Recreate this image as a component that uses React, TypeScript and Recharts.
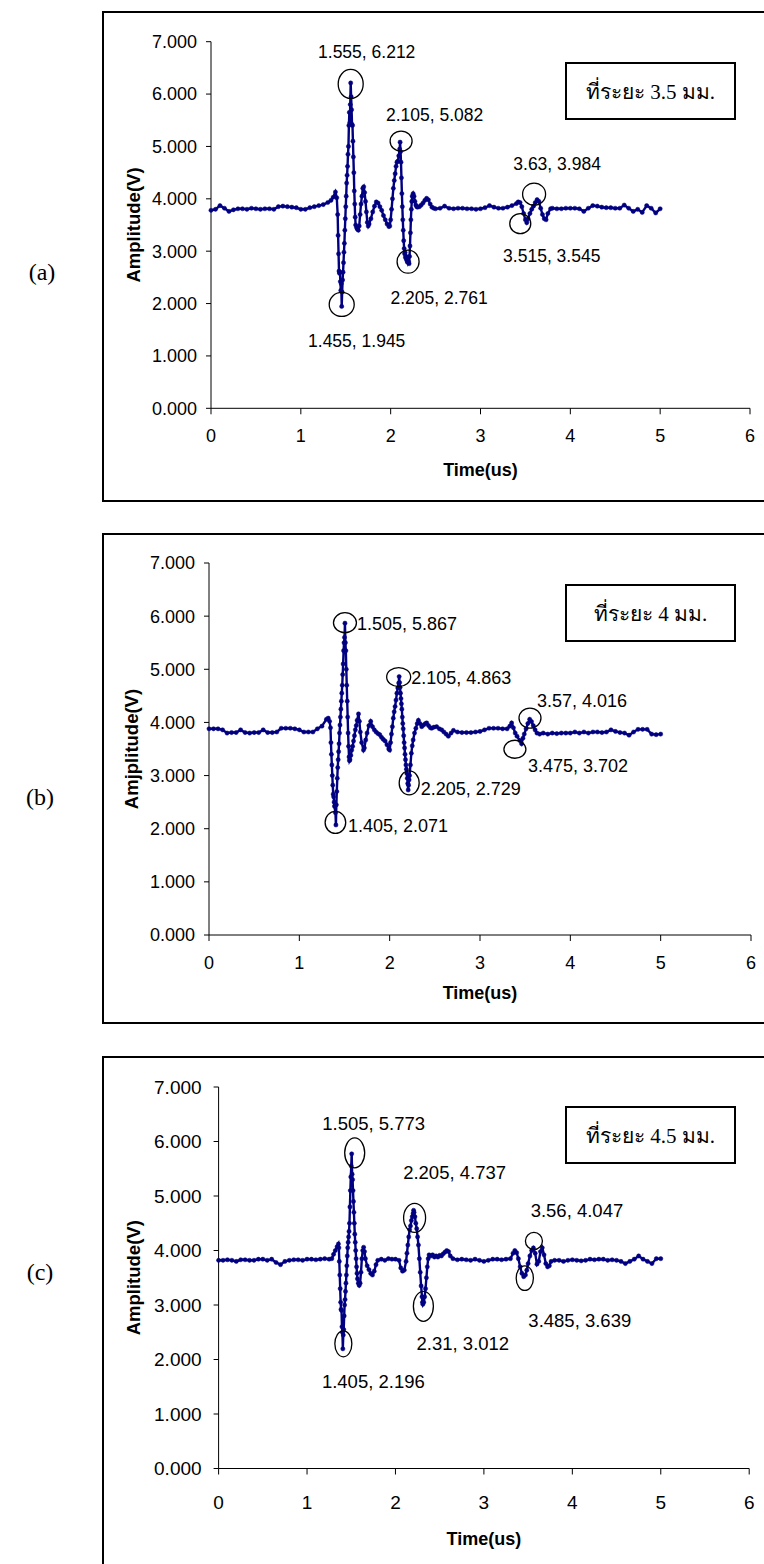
import React from 'react';
import { LineChart, Line, XAxis, YAxis, ReferenceDot, Label } from 'recharts';

type Pt = [number, number];

const timeTicks = [0, 1, 2, 3, 4, 5, 6];
const ampTicks = [0, 1, 2, 3, 4, 5, 6, 7];

// (a) 3.5 mm
const leadA: Pt[] = [[0,3.78],[0.05,3.80],[0.1,3.87],[0.15,3.82],[0.2,3.76],[0.25,3.79],[0.3,3.81],[0.35,3.81],[0.4,3.80],[0.45,3.82],[0.5,3.81],[0.55,3.80],[0.6,3.81],[0.65,3.81],[0.7,3.80],[0.75,3.85],[0.8,3.86],[0.85,3.85],[0.9,3.84],[0.95,3.83],[1.0,3.80],[1.05,3.80],[1.1,3.83],[1.15,3.85],[1.2,3.87],[1.25,3.89],[1.3,3.93]];
const burstA: Pt[] = [[1.335,3.97],[1.36,4.03],[1.385,4.13],[1.40,4.02],[1.41,3.70],[1.415,3.30],[1.42,2.95],[1.425,2.62],[1.43,2.58],[1.435,2.60],[1.44,2.42],[1.445,2.25],[1.45,2.38],[1.455,1.945],[1.46,2.22],[1.465,2.45],[1.47,2.60],[1.475,2.78],[1.48,2.98],[1.485,3.15],[1.49,3.40],[1.495,3.62],[1.50,3.85],[1.505,4.05],[1.51,4.30],[1.515,4.45],[1.52,4.62],[1.525,4.85],[1.53,5.00],[1.535,5.40],[1.54,5.65],[1.545,5.45],[1.55,5.80],[1.555,6.212],[1.56,5.95],[1.565,5.70],[1.57,5.42],[1.575,5.40],[1.58,5.10],[1.585,4.80],[1.59,4.50],[1.595,4.15],[1.60,3.90],[1.605,3.65],[1.61,3.50],[1.62,3.45],[1.63,3.42],[1.64,3.40],[1.65,3.48],[1.66,3.70],[1.67,3.90],[1.68,4.05],[1.69,4.20],[1.70,4.23],[1.71,4.12],[1.72,3.95],[1.73,3.75],[1.74,3.55],[1.75,3.48],[1.76,3.52],[1.78,3.62],[1.80,3.75],[1.82,3.86],[1.84,3.94],[1.86,3.92],[1.88,3.85],[1.90,3.78],[1.92,3.68],[1.94,3.60],[1.96,3.52],[1.98,3.47],[1.99,3.48],[2.00,3.60],[2.01,3.80],[2.02,4.00],[2.03,4.20],[2.04,4.35],[2.05,4.48],[2.06,4.62],[2.07,4.70],[2.08,4.72],[2.09,4.82],[2.10,4.95],[2.105,5.082],[2.11,4.90],[2.115,4.70],[2.12,4.40],[2.125,4.10],[2.13,3.85],[2.135,3.60],[2.14,3.40],[2.145,3.20],[2.15,3.05],[2.155,2.95],[2.16,2.98],[2.165,2.88],[2.17,2.90],[2.175,2.84],[2.18,2.86],[2.185,2.80],[2.19,2.84],[2.195,2.78],[2.20,2.80],[2.205,2.761],[2.21,2.90],[2.215,3.10],[2.22,3.35],[2.225,3.60],[2.23,3.80],[2.235,3.95],[2.24,4.05],[2.25,4.10],[2.26,4.05],[2.27,3.95],[2.28,3.88],[2.29,3.85],[2.30,3.84],[2.32,3.85],[2.34,3.88],[2.36,3.92],[2.38,3.97],[2.40,4.01],[2.42,3.98],[2.44,3.90],[2.46,3.84],[2.48,3.82],[2.50,3.81]];
const midA: Pt[] = [[2.55,3.82],[2.60,3.86],[2.65,3.82],[2.70,3.81],[2.75,3.82],[2.80,3.82],[2.85,3.81],[2.90,3.81],[2.95,3.80],[3.00,3.81],[3.05,3.83],[3.10,3.87],[3.15,3.84],[3.20,3.82],[3.25,3.82],[3.30,3.84]];
const echoA: Pt[] = [[3.35,3.87],[3.40,3.91],[3.42,3.94],[3.44,3.93],[3.46,3.85],[3.48,3.72],[3.50,3.60],[3.515,3.545],[3.53,3.62],[3.55,3.72],[3.57,3.80],[3.59,3.86],[3.61,3.93],[3.63,3.984],[3.65,3.95],[3.67,3.82],[3.69,3.70],[3.71,3.62],[3.73,3.60],[3.75,3.72],[3.78,3.81],[3.80,3.82]];
const tailA: Pt[] = [[3.85,3.81],[3.90,3.81],[3.95,3.82],[4.00,3.82],[4.05,3.82],[4.10,3.81],[4.15,3.76],[4.20,3.82],[4.25,3.87],[4.30,3.86],[4.35,3.84],[4.40,3.83],[4.45,3.83],[4.50,3.82],[4.55,3.82],[4.60,3.88],[4.65,3.82],[4.70,3.76],[4.75,3.80],[4.80,3.74],[4.85,3.87],[4.90,3.82],[4.95,3.73],[5.00,3.81]];
const peaksA: Pt[] = [[1.555,6.212],[2.105,5.082],[2.205,2.761],[1.455,1.945],[3.63,3.984],[3.515,3.545]];

// (b) 4 mm
const leadB: Pt[] = [[0,3.88],[0.05,3.88],[0.1,3.88],[0.15,3.86],[0.2,3.80],[0.25,3.81],[0.3,3.81],[0.35,3.86],[0.4,3.81],[0.45,3.80],[0.5,3.81],[0.55,3.81],[0.6,3.86],[0.65,3.81],[0.7,3.81],[0.75,3.82],[0.8,3.89],[0.85,3.89],[0.9,3.89],[0.95,3.88],[1.0,3.86],[1.05,3.82],[1.1,3.82],[1.15,3.82],[1.2,3.88],[1.25,3.93],[1.3,4.06]];
const burstB: Pt[] = [[1.32,4.08],[1.335,4.02],[1.345,3.90],[1.35,3.62],[1.355,3.40],[1.36,3.20],[1.365,3.00],[1.37,2.82],[1.375,2.65],[1.38,2.60],[1.385,2.50],[1.39,2.42],[1.395,2.44],[1.40,2.30],[1.405,2.071],[1.41,2.45],[1.415,2.70],[1.42,2.95],[1.425,3.15],[1.43,3.30],[1.435,3.45],[1.44,3.60],[1.445,3.80],[1.45,3.95],[1.455,4.10],[1.46,4.25],[1.465,4.40],[1.47,4.55],[1.475,4.70],[1.48,4.90],[1.485,5.10],[1.49,5.35],[1.495,5.50],[1.50,5.60],[1.505,5.867],[1.51,5.50],[1.515,5.35],[1.52,5.00],[1.525,4.70],[1.53,4.40],[1.535,4.10],[1.54,3.80],[1.545,3.55],[1.55,3.35],[1.555,3.28],[1.56,3.30],[1.57,3.38],[1.58,3.48],[1.59,3.55],[1.60,3.65],[1.61,3.75],[1.62,3.86],[1.63,3.94],[1.64,4.04],[1.655,4.16],[1.665,4.02],[1.675,3.82],[1.69,3.62],[1.71,3.48],[1.72,3.52],[1.735,3.67],[1.75,3.80],[1.77,3.94],[1.79,4.02],[1.81,3.92],[1.83,3.86],[1.85,3.82],[1.87,3.79],[1.89,3.77],[1.91,3.72],[1.93,3.68],[1.95,3.65],[1.97,3.58],[1.99,3.50],[2.00,3.48],[2.01,3.62],[2.02,3.78],[2.03,3.92],[2.04,4.08],[2.05,4.20],[2.06,4.30],[2.07,4.42],[2.08,4.55],[2.09,4.65],[2.10,4.74],[2.105,4.863],[2.11,4.75],[2.115,4.66],[2.12,4.55],[2.125,4.45],[2.13,4.35],[2.135,4.25],[2.14,4.10],[2.145,3.98],[2.15,3.88],[2.155,3.75],[2.16,3.62],[2.165,3.52],[2.17,3.40],[2.175,3.30],[2.18,3.20],[2.185,3.12],[2.19,3.04],[2.195,2.95],[2.20,2.85],[2.205,2.729],[2.21,2.82],[2.215,2.92],[2.22,3.00],[2.23,3.20],[2.24,3.42],[2.25,3.56],[2.26,3.67],[2.275,3.80],[2.29,3.89],[2.305,3.98],[2.318,4.04],[2.335,3.98],[2.355,3.92],[2.375,3.95],[2.395,3.98],[2.41,3.99],[2.43,3.94],[2.45,3.90],[2.466,3.89],[2.49,3.91],[2.52,3.92],[2.55,3.88],[2.576,3.86],[2.60,3.82],[2.625,3.78],[2.65,3.74],[2.68,3.80],[2.706,3.85]];
const midB: Pt[] = [[2.75,3.82],[2.80,3.81],[2.85,3.81],[2.90,3.81],[2.95,3.82],[3.00,3.83],[3.05,3.86],[3.10,3.89],[3.15,3.89],[3.20,3.89],[3.25,3.88],[3.30,3.88]];
const echoB: Pt[] = [[3.33,3.93],[3.35,3.99],[3.37,3.90],[3.39,3.80],[3.41,3.74],[3.44,3.66],[3.46,3.60],[3.475,3.702],[3.49,3.78],[3.51,3.88],[3.53,3.98],[3.55,4.06],[3.57,4.016],[3.59,3.94],[3.61,3.86],[3.63,3.80],[3.66,3.78],[3.70,3.80]];
const tailB: Pt[] = [[3.75,3.78],[3.80,3.80],[3.85,3.79],[3.90,3.80],[3.95,3.80],[4.00,3.80],[4.05,3.82],[4.10,3.80],[4.15,3.82],[4.20,3.80],[4.25,3.82],[4.30,3.82],[4.35,3.81],[4.40,3.82],[4.45,3.86],[4.50,3.83],[4.55,3.81],[4.60,3.80],[4.65,3.76],[4.70,3.82],[4.75,3.87],[4.80,3.87],[4.85,3.87],[4.90,3.78],[4.95,3.77],[5.00,3.78]];
const peaksB: Pt[] = [[1.505,5.867],[2.105,4.863],[2.205,2.729],[1.405,2.071],[3.57,4.016],[3.475,3.702]];

// (c) 4.5 mm
const leadC: Pt[] = [[0,3.82],[0.05,3.82],[0.1,3.83],[0.15,3.82],[0.2,3.80],[0.25,3.83],[0.3,3.83],[0.35,3.82],[0.4,3.82],[0.45,3.84],[0.5,3.84],[0.55,3.82],[0.6,3.84],[0.65,3.78],[0.7,3.74],[0.75,3.80],[0.8,3.82],[0.85,3.83],[0.9,3.83],[0.95,3.82],[1.0,3.84],[1.05,3.84],[1.1,3.83],[1.15,3.84],[1.2,3.85],[1.25,3.84]];
const burstC: Pt[] = [[1.28,3.85],[1.30,3.93],[1.32,4.00],[1.34,4.07],[1.355,4.12],[1.36,4.05],[1.365,3.80],[1.37,3.55],[1.375,3.30],[1.38,3.05],[1.385,2.92],[1.39,2.90],[1.395,2.60],[1.40,2.50],[1.405,2.196],[1.41,2.45],[1.415,2.55],[1.42,2.80],[1.425,3.00],[1.43,3.10],[1.435,3.25],[1.44,3.40],[1.445,3.55],[1.45,3.72],[1.455,3.90],[1.46,4.05],[1.465,4.15],[1.47,4.25],[1.475,4.35],[1.48,4.50],[1.485,4.80],[1.49,5.10],[1.495,5.35],[1.50,5.55],[1.505,5.773],[1.51,5.40],[1.515,5.30],[1.52,5.10],[1.525,4.90],[1.53,4.70],[1.535,4.50],[1.54,4.30],[1.545,4.15],[1.55,4.00],[1.555,3.85],[1.56,3.70],[1.565,3.58],[1.57,3.48],[1.58,3.40],[1.59,3.36],[1.60,3.40],[1.61,3.60],[1.62,3.85],[1.63,4.00],[1.64,4.06],[1.65,3.98],[1.66,3.85],[1.68,3.72],[1.70,3.65],[1.72,3.58],[1.74,3.55],[1.76,3.62],[1.78,3.74],[1.80,3.82],[1.84,3.84],[1.88,3.82],[1.92,3.85],[1.96,3.84],[2.00,3.84],[2.04,3.82],[2.06,3.68],[2.08,3.62],[2.10,3.64],[2.12,3.80],[2.13,3.95],[2.14,4.10],[2.15,4.25],[2.16,4.38],[2.17,4.45],[2.18,4.55],[2.19,4.62],[2.20,4.68],[2.205,4.737],[2.21,4.70],[2.22,4.62],[2.23,4.50],[2.24,4.40],[2.25,4.25],[2.26,4.10],[2.27,3.85],[2.28,3.60],[2.29,3.35],[2.30,3.15],[2.305,3.05],[2.31,3.012],[2.32,3.05],[2.33,3.15],[2.34,3.30],[2.35,3.50],[2.36,3.70],[2.37,3.85],[2.38,3.92],[2.40,3.90],[2.42,3.92],[2.44,3.88],[2.46,3.90],[2.48,3.88],[2.50,3.91],[2.52,3.90],[2.54,3.94],[2.56,3.97],[2.58,4.00],[2.60,3.98],[2.62,3.90],[2.65,3.85]];
const midC: Pt[] = [[2.70,3.83],[2.75,3.84],[2.80,3.83],[2.85,3.82],[2.90,3.84],[2.95,3.82],[3.00,3.80],[3.05,3.82],[3.10,3.84],[3.15,3.84],[3.20,3.83],[3.25,3.84]];
const echoC: Pt[] = [[3.30,3.85],[3.33,3.95],[3.35,4.00],[3.37,3.96],[3.39,3.85],[3.41,3.70],[3.43,3.58],[3.45,3.52],[3.47,3.55],[3.485,3.639],[3.50,3.76],[3.52,3.90],[3.54,4.00],[3.56,4.047],[3.58,3.95],[3.60,3.75],[3.62,3.80],[3.64,3.98],[3.66,4.05],[3.68,3.92],[3.70,3.76],[3.72,3.70],[3.74,3.72],[3.76,3.80],[3.80,3.82]];
const tailC: Pt[] = [[3.85,3.82],[3.90,3.80],[3.95,3.82],[4.00,3.83],[4.05,3.82],[4.10,3.81],[4.15,3.82],[4.20,3.84],[4.25,3.83],[4.30,3.84],[4.35,3.84],[4.40,3.82],[4.45,3.83],[4.50,3.82],[4.55,3.80],[4.60,3.76],[4.65,3.80],[4.70,3.84],[4.75,3.90],[4.80,3.84],[4.85,3.80],[4.90,3.76],[4.95,3.85],[5.00,3.85]];
const peaksC: Pt[] = [[1.505,5.773],[2.205,4.737],[3.56,4.047],[3.485,3.639],[2.31,3.012],[1.405,2.196]];

const SANS = '"Liberation Sans", Arial, sans-serif';
const SERIF = '"Liberation Serif", "Times New Roman", "DejaVu Serif", serif';
const NAVY = '#000080';

type Ring = [number, number, number, number]; // dx, dy, rx, ry (px)
type Note = [number, number, 'start' | 'middle'];

interface Panel {
  tag: string;
  legend: string;
  yTitle: string;
  wave: Pt[];
  peaks: Pt[];
  rings: Ring[];
  notes: Note[];
  top: number;
  height: number;
  plotTop: number;
  plotBottom: number;
  plotLeft: number;
  plotRight: number;
  boxTop: number;
  boxHeight: number;
  legendTop: number;
  tagX: number;
  tagY: number;
  tickFont: number;
  yTickGap: number;
  xTickGap: number;
  noteFont: number;
  xTitleDy: number;
  yTitleX: number;
}

const panels: Panel[] = [
  {
    tag: '(a)', legend: 'ที่ระยะ 3.5 มม.', yTitle: 'Amplitude(V)',
    wave: [...leadA, ...burstA, ...midA, ...echoA, ...tailA], peaks: peaksA,
    rings: [[0, 1, 12.5, 14.5], [1, -1, 11, 10], [-1, -2, 11, 11.5], [0, -2, 12.5, 12], [-3, -5.5, 11.5, 11], [-6.5, 1, 10.5, 10]],
    notes: [[16, -31, 'middle'], [34.5, -27, 'middle'], [30, 34, 'middle'], [15, 34, 'middle'], [20, -35.5, 'middle'], [25, 33.5, 'middle']],
    top: 0, height: 505, plotTop: 41.7, plotBottom: 408.3, plotLeft: 211, plotRight: 750,
    boxTop: 11, boxHeight: 491, legendTop: 62, tagX: 42, tagY: 272,
    tickFont: 18, yTickGap: 9, xTickGap: 15, noteFont: 17.5, xTitleDy: 61, yTitleX: 134,
  },
  {
    tag: '(b)', legend: 'ที่ระยะ 4 มม.', yTitle: 'Amjplitude(V)',
    wave: [...leadB, ...burstB, ...midB, ...echoB, ...tailB], peaks: peaksB,
    rings: [[0, -0.5, 11.5, 10], [-0.5, 0.5, 12, 9.5], [1, -7, 10, 12], [-0.5, -2.5, 10.3, 11], [-1.5, -3.5, 11, 10], [-8, 11, 11, 9]],
    notes: [[12, 0.5, 'start'], [12, 1, 'start'], [12.5, -1, 'start'], [12, 0.5, 'start'], [5.5, -20.5, 'start'], [5, 27, 'start']],
    top: 505, height: 525, plotTop: 58, plotBottom: 430, plotLeft: 209, plotRight: 751,
    boxTop: 533, boxHeight: 491, legendTop: 584, tagX: 40, tagY: 797,
    tickFont: 18, yTickGap: 9, xTickGap: 15, noteFont: 18, xTitleDy: 58, yTitleX: 132,
  },
  {
    tag: '(c)', legend: 'ที่ระยะ 4.5 มม.', yTitle: 'Amplitude(V)',
    wave: [...leadC, ...burstC, ...midC, ...echoC, ...tailC], peaks: peaksC,
    rings: [[3, -1, 10, 15], [1, 7.5, 11, 14.5], [0.5, -7, 8.5, 8.5], [-2, 8, 8.6, 12.3], [0.5, 2, 10, 15], [0.5, -5, 8.5, 13]],
    notes: [[22, -30, 'middle'], [41, -38, 'middle'], [43.5, -37.5, 'middle'], [53, 50, 'middle'], [40, 39.5, 'middle'], [30.5, 32.5, 'middle']],
    top: 1030, height: 534, plotTop: 57, plotBottom: 438.5, plotLeft: 218.6, plotRight: 749.2,
    boxTop: 1056, boxHeight: 600, legendTop: 1106, tagX: 40, tagY: 1272,
    tickFont: 19, yTickGap: 12, xTickGap: 21, noteFont: 18.5, xTitleDy: 70.5, yTitleX: 134,
  },
];

function WavePanel({ p }: { p: Panel }) {
  const data = p.wave.map(([t, v]) => ({ t, v }));
  const midX = (p.plotLeft + p.plotRight) / 2;
  const midY = (p.plotTop + p.plotBottom) / 2;
  const tick = { fill: '#000', fontSize: p.tickFont, fontFamily: SANS };

  return (
    <>
      <div
        style={{
          position: 'absolute', left: 102, top: p.boxTop, width: 720, height: p.boxHeight,
          border: '2px solid #000', boxSizing: 'border-box',
        }}
      />
      <div style={{ position: 'absolute', left: 0, top: p.top }}>
        <LineChart
          width={764}
          height={p.height}
          data={data}
          margin={{ top: p.plotTop, right: 764 - p.plotRight, bottom: 0, left: 0 }}
        >
          <XAxis
            dataKey="t"
            type="number"
            domain={[0, 6]}
            ticks={timeTicks}
            interval={0}
            height={p.height - p.plotBottom}
            tickSize={6}
            tickMargin={p.xTickGap}
            stroke="#000"
            tick={tick}
          >
            <Label
              content={() => (
                <text x={midX} y={p.plotBottom + p.xTitleDy} dy="0.35em" textAnchor="middle"
                  fontSize={18} fontWeight="bold" fontFamily={SANS} fill="#000">
                  Time(us)
                </text>
              )}
            />
          </XAxis>
          <YAxis
            type="number"
            domain={[0, 7]}
            ticks={ampTicks}
            interval={0}
            width={p.plotLeft}
            tickSize={5}
            tickMargin={p.yTickGap}
            stroke="#000"
            tick={tick}
            tickFormatter={(v: number) => v.toFixed(3)}
          >
            <Label
              content={() => (
                <text x={p.yTitleX} y={midY} dy="0.35em" textAnchor="middle"
                  transform={`rotate(-90 ${p.yTitleX} ${midY})`}
                  fontSize={18.5} fontWeight="bold" fontFamily={SANS} fill="#000">
                  {p.yTitle}
                </text>
              )}
            />
          </YAxis>
          <Line
            type="linear"
            dataKey="v"
            stroke={NAVY}
            strokeWidth={2.4}
            dot={{ r: 2.1, fill: NAVY, stroke: NAVY, strokeWidth: 0.5 }}
            isAnimationActive={false}
          />
          {p.peaks.map(([t, v], i) => {
            const ring = p.rings[i];
            const note = p.notes[i];
            return (
              <ReferenceDot
                key={`${t}-${v}`}
                x={t}
                y={v}
                r={1}
                shape={(s: any) => (
                  <g>
                    <ellipse cx={s.cx + ring[0]} cy={s.cy + ring[1]} rx={ring[2]} ry={ring[3]}
                      fill="none" stroke="#000" strokeWidth={1.3} />
                    <text x={s.cx + note[0]} y={s.cy + note[1]} dy="0.35em" textAnchor={note[2]}
                      fontSize={p.noteFont} fontFamily={SANS} fill="#000">
                      {`${t}, ${v.toFixed(3)}`}
                    </text>
                  </g>
                )}
              />
            );
          })}
        </LineChart>
      </div>
      <div
        style={{
          position: 'absolute', left: 565, top: p.legendTop, width: 171, height: 58,
          border: '2px solid #000', boxSizing: 'border-box', background: '#fff',
          display: 'flex', alignItems: 'center', justifyContent: 'center',
          fontFamily: SERIF, fontSize: 21, color: '#000',
        }}
      >
        {p.legend}
      </div>
      <div
        style={{
          position: 'absolute', left: p.tagX - 30, top: p.tagY - 15, width: 60, height: 30,
          lineHeight: '30px', textAlign: 'center', fontFamily: SERIF, fontSize: 24, color: '#000',
        }}
      >
        {p.tag}
      </div>
    </>
  );
}

export default function App() {
  return (
    <div
      style={{
        position: 'absolute', left: 0, top: 0, width: 764, height: 1564,
        overflow: 'hidden', background: '#fff',
      }}
    >
      {panels.map((p) => (
        <WavePanel key={p.tag} p={p} />
      ))}
    </div>
  );
}
